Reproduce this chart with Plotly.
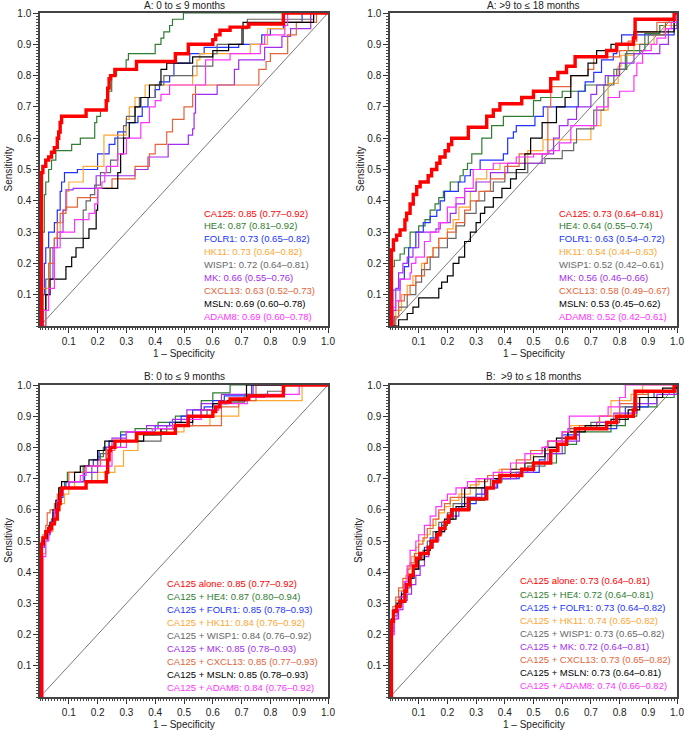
import plotly.graph_objects as go

# ---------------- data ----------------
MARKERS = ["CA125", "HE4", "FOLR1", "HK11", "WISP1", "MK", "CXCL13", "MSLN", "ADAM8"]

TICK_VALUES = [0.1, 0.2, 0.3, 0.4, 0.5, 0.6, 0.7, 0.8, 0.9, 1.0]
TICK_LABELS = ["0.1", "0.2", "0.3", "0.4", "0.5", "0.6", "0.7", "0.8", "0.9", "1.0"]

TITLES = ["A: 0 to \u2264 9 months", "A: >9 to \u2264 18 months",
          "B: 0 to \u2264 9 months", "B:  >9 to \u2264 18 months"]

LABELS_A_EARLY = ["CA125: 0.85 (0.77\u20130.92)", "HE4: 0.87 (0.81\u20130.92)", "FOLR1: 0.73 (0.65\u20130.82)",
                  "HK11: 0.73 (0.64\u20130.82)", "WISP1: 0.72 (0.64\u20130.81)", "MK: 0.66 (0.55\u20130.76)",
                  "CXCL13: 0.63 (0.52\u20130.73)", "MSLN: 0.69 (0.60\u20130.78)", "ADAM8: 0.69 (0.60\u20130.78)"]
LABELS_A_LATE = ["CA125: 0.73 (0.64\u20130.81)", "HE4: 0.64 (0.55\u20130.74)", "FOLR1: 0.63 (0.54\u20130.72)",
                 "HK11: 0.54 (0.44\u20130.63)", "WISP1: 0.52 (0.42\u20130.61)", "MK: 0.56 (0.46\u20130.66)",
                 "CXCL13: 0.58 (0.49\u20130.67)", "MSLN: 0.53 (0.45\u20130.62)", "ADAM8: 0.52 (0.42\u20130.61)"]
LABELS_B_EARLY = ["CA125 alone: 0.85 (0.77\u20130.92)", "CA125 + HE4: 0.87 (0.80\u20130.94)",
                  "CA125 + FOLR1: 0.85 (0.78\u20130.93)", "CA125 + HK11: 0.84 (0.76\u20130.92)",
                  "CA125 + WISP1: 0.84 (0.76\u20130.92)", "CA125 + MK: 0.85 (0.78\u20130.93)",
                  "CA125 + CXCL13: 0.85 (0.77\u20130.93)", "CA125 + MSLN: 0.85 (0.78\u20130.93)",
                  "CA125 + ADAM8: 0.84 (0.76\u20130.92)"]
LABELS_B_LATE = ["CA125 alone: 0.73 (0.64\u20130.81)", "CA125 + HE4: 0.72 (0.64\u20130.81)",
                 "CA125 + FOLR1: 0.73 (0.64\u20130.82)", "CA125 + HK11: 0.74 (0.65\u20130.82)",
                 "CA125 + WISP1: 0.73 (0.65\u20130.82)", "CA125 + MK: 0.72 (0.64\u20130.81)",
                 "CA125 + CXCL13: 0.73 (0.65\u20130.82)", "CA125 + MSLN: 0.73 (0.64\u20130.81)",
                 "CA125 + ADAM8: 0.74 (0.66\u20130.82)"]

# ROC curves: (1 - specificity, sensitivity) at each step
# ---- A: 0 to <= 9 months, single markers
A1_CA125_FPR = [0, 0.005, 0.01, 0.02, 0.03, 0.04, 0.05, 0.06, 0.065, 0.07, 0.075, 0.16, 0.23, 0.235, 0.24, 0.245, 0.26, 0.335, 0.47, 0.515, 0.6, 0.61, 0.625, 0.66, 0.725, 0.845, 1.0]
A1_CA125_TPR = [0, 0.49, 0.51, 0.53, 0.54, 0.555, 0.57, 0.6, 0.62, 0.65, 0.67, 0.69, 0.72, 0.76, 0.79, 0.8, 0.82, 0.845, 0.87, 0.9, 0.915, 0.93, 0.945, 0.955, 0.965, 1.0, 1.0]
A1_HE4_FPR = [0, 0.008, 0.015, 0.02, 0.03, 0.04, 0.055, 0.11, 0.14, 0.19, 0.197, 0.21, 0.229, 0.237, 0.249, 0.266, 0.299, 0.307, 0.4, 0.42, 0.43, 0.45, 0.46, 0.498, 1.0]
A1_HE4_TPR = [0, 0.3, 0.42, 0.46, 0.5, 0.53, 0.56, 0.58, 0.6, 0.65, 0.67, 0.69, 0.72, 0.75, 0.8, 0.82, 0.85, 0.87, 0.9, 0.92, 0.94, 0.96, 0.98, 1.0, 1.0]
A1_FOLR1_FPR = [0, 0.01, 0.015, 0.02, 0.03, 0.05, 0.06, 0.07, 0.075, 0.085, 0.13, 0.2, 0.24, 0.26, 0.27, 0.3, 0.34, 0.355, 0.375, 0.4, 0.415, 0.45, 0.465, 0.52, 0.57, 0.69, 0.77, 0.8, 0.845, 0.91, 1.0]
A1_FOLR1_TPR = [0, 0.1, 0.2, 0.25, 0.3, 0.33, 0.37, 0.43, 0.46, 0.49, 0.5, 0.55, 0.58, 0.6, 0.62, 0.65, 0.67, 0.7, 0.73, 0.755, 0.78, 0.8, 0.84, 0.87, 0.89, 0.9, 0.93, 0.95, 0.97, 1.0, 1.0]
A1_HK11_FPR = [0, 0.005, 0.01, 0.03, 0.035, 0.05, 0.07, 0.08, 0.093, 0.1, 0.15, 0.222, 0.3, 0.31, 0.33, 0.365, 0.53, 0.545, 0.555, 0.73, 0.79, 0.85, 0.94, 1.0]
A1_HK11_TPR = [0, 0.05, 0.12, 0.2, 0.25, 0.28, 0.33, 0.37, 0.43, 0.46, 0.51, 0.61, 0.66, 0.7, 0.73, 0.77, 0.8, 0.85, 0.87, 0.9, 0.95, 0.97, 1.0, 1.0]
A1_WISP1_FPR = [0, 0.01, 0.02, 0.035, 0.05, 0.15, 0.16, 0.175, 0.19, 0.21, 0.245, 0.27, 0.29, 0.3, 0.33, 0.345, 0.4, 0.43, 0.53, 0.6, 0.615, 0.7, 0.72, 0.95, 1.0]
A1_WISP1_TPR = [0, 0.1, 0.15, 0.25, 0.28, 0.37, 0.4, 0.42, 0.45, 0.49, 0.53, 0.6, 0.64, 0.67, 0.7, 0.73, 0.77, 0.8, 0.83, 0.87, 0.9, 0.95, 0.98, 1.0, 1.0]
A1_MK_FPR = [0, 0.02, 0.03, 0.045, 0.06, 0.08, 0.09, 0.115, 0.195, 0.33, 0.375, 0.445, 0.515, 0.53, 0.535, 0.54, 0.615, 0.675, 0.69, 0.78, 0.84, 0.87, 0.94, 1.0]
A1_MK_TPR = [0, 0.1, 0.15, 0.25, 0.3, 0.37, 0.435, 0.44, 0.48, 0.5, 0.54, 0.58, 0.61, 0.63, 0.68, 0.74, 0.77, 0.82, 0.85, 0.89, 0.925, 0.95, 1.0, 1.0]
A1_CXCL13_FPR = [0, 0.02, 0.03, 0.05, 0.06, 0.07, 0.09, 0.13, 0.2, 0.25, 0.33, 0.38, 0.4, 0.44, 0.46, 0.5, 0.53, 0.54, 0.76, 0.785, 0.8, 0.86, 0.89, 0.96, 1.0]
A1_CXCL13_TPR = [0, 0.1, 0.2, 0.28, 0.33, 0.36, 0.38, 0.41, 0.44, 0.47, 0.51, 0.55, 0.58, 0.62, 0.66, 0.7, 0.74, 0.77, 0.82, 0.845, 0.87, 0.93, 0.97, 1.0, 1.0]
A1_MSLN_FPR = [0, 0.01, 0.02, 0.035, 0.09, 0.11, 0.125, 0.15, 0.17, 0.195, 0.2, 0.27, 0.28, 0.29, 0.31, 0.33, 0.35, 0.38, 0.42, 0.44, 0.53, 0.6, 0.655, 0.705, 0.95, 1.0]
A1_MSLN_TPR = [0, 0.05, 0.1, 0.15, 0.19, 0.22, 0.25, 0.28, 0.31, 0.37, 0.44, 0.49, 0.55, 0.6, 0.65, 0.7, 0.73, 0.77, 0.82, 0.84, 0.86, 0.88, 0.9, 0.97, 1.0, 1.0]
A1_ADAM8_FPR = [0, 0.01, 0.03, 0.05, 0.07, 0.12, 0.17, 0.19, 0.2, 0.215, 0.225, 0.23, 0.27, 0.3, 0.35, 0.38, 0.4, 0.42, 0.45, 0.575, 0.66, 0.765, 0.78, 0.85, 0.86, 1.0]
A1_ADAM8_TPR = [0, 0.05, 0.12, 0.25, 0.3, 0.34, 0.36, 0.39, 0.44, 0.46, 0.49, 0.51, 0.55, 0.6, 0.65, 0.7, 0.72, 0.74, 0.77, 0.85, 0.87, 0.9, 0.93, 0.96, 1.0, 1.0]

# ---- A: >9 to <= 18 months, single markers
A2_CA125_FPR = [0, 0.005, 0.012, 0.023, 0.035, 0.052, 0.058, 0.07, 0.081, 0.093, 0.105, 0.133, 0.145, 0.163, 0.174, 0.192, 0.204, 0.215, 0.273, 0.337, 0.36, 0.383, 0.459, 0.5, 0.56, 0.585, 0.615, 0.645, 0.755, 0.79, 0.848, 0.854, 0.99, 1.0]
A2_CA125_TPR = [0, 0.243, 0.275, 0.29, 0.307, 0.339, 0.36, 0.39, 0.42, 0.445, 0.46, 0.48, 0.5, 0.52, 0.54, 0.56, 0.58, 0.6, 0.635, 0.67, 0.69, 0.71, 0.73, 0.75, 0.79, 0.81, 0.83, 0.86, 0.88, 0.9, 0.92, 0.98, 1.0, 1.0]
A2_HE4_FPR = [0, 0.007, 0.015, 0.035, 0.05, 0.07, 0.1, 0.122, 0.14, 0.157, 0.17, 0.186, 0.21, 0.244, 0.255, 0.27, 0.285, 0.32, 0.354, 0.395, 0.5, 0.525, 0.6, 0.68, 0.76, 0.79, 0.825, 0.888, 0.94, 1.0]
A2_HE4_TPR = [0, 0.19, 0.21, 0.23, 0.25, 0.3, 0.32, 0.34, 0.37, 0.39, 0.41, 0.43, 0.46, 0.48, 0.5, 0.52, 0.55, 0.6, 0.64, 0.67, 0.72, 0.73, 0.75, 0.77, 0.8, 0.82, 0.88, 0.935, 0.96, 1.0]
A2_FOLR1_FPR = [0, 0.01, 0.035, 0.05, 0.065, 0.09, 0.116, 0.14, 0.163, 0.175, 0.19, 0.238, 0.261, 0.28, 0.314, 0.395, 0.41, 0.43, 0.44, 0.505, 0.534, 0.656, 0.68, 0.71, 0.737, 0.778, 0.79, 0.807, 0.99, 1.0]
A2_FOLR1_TPR = [0, 0.115, 0.15, 0.19, 0.25, 0.3, 0.33, 0.35, 0.37, 0.4, 0.43, 0.46, 0.48, 0.5, 0.53, 0.55, 0.6, 0.62, 0.64, 0.67, 0.7, 0.75, 0.78, 0.81, 0.85, 0.87, 0.9, 0.93, 0.98, 1.0]
A2_HK11_FPR = [0, 0.01, 0.02, 0.04, 0.06, 0.08, 0.11, 0.13, 0.15, 0.17, 0.2, 0.22, 0.24, 0.28, 0.3, 0.337, 0.383, 0.48, 0.533, 0.7, 0.735, 0.76, 0.795, 0.805, 0.85, 0.92, 0.955, 0.99, 1.0]
A2_HK11_TPR = [0, 0.03, 0.05, 0.1, 0.13, 0.16, 0.2, 0.22, 0.25, 0.28, 0.31, 0.34, 0.38, 0.43, 0.47, 0.5, 0.52, 0.56, 0.595, 0.64, 0.69, 0.775, 0.83, 0.865, 0.9, 0.93, 0.96, 0.98, 1.0]
A2_WISP1_FPR = [0, 0.015, 0.03, 0.06, 0.09, 0.11, 0.14, 0.17, 0.2, 0.23, 0.26, 0.3, 0.33, 0.36, 0.4, 0.48, 0.54, 0.6, 0.64, 0.65, 0.71, 0.745, 0.78, 0.82, 0.87, 0.9, 0.96, 1.0]
A2_WISP1_TPR = [0, 0.03, 0.06, 0.1, 0.14, 0.18, 0.22, 0.25, 0.28, 0.32, 0.36, 0.4, 0.43, 0.46, 0.49, 0.52, 0.535, 0.56, 0.585, 0.63, 0.69, 0.77, 0.82, 0.87, 0.9, 0.93, 0.97, 1.0]
A2_MK_FPR = [0, 0.01, 0.02, 0.03, 0.045, 0.06, 0.08, 0.1, 0.16, 0.175, 0.21, 0.23, 0.26, 0.3, 0.35, 0.41, 0.53, 0.57, 0.59, 0.62, 0.65, 0.7, 0.72, 0.75, 0.8, 0.85, 0.94, 0.97, 1.0]
A2_MK_TPR = [0, 0.05, 0.12, 0.17, 0.2, 0.22, 0.25, 0.3, 0.31, 0.33, 0.36, 0.39, 0.43, 0.46, 0.49, 0.52, 0.55, 0.6, 0.64, 0.66, 0.7, 0.74, 0.77, 0.8, 0.84, 0.87, 0.9, 0.95, 1.0]
A2_CXCL13_FPR = [0, 0.02, 0.03, 0.05, 0.07, 0.09, 0.12, 0.13, 0.15, 0.17, 0.2, 0.23, 0.26, 0.28, 0.31, 0.35, 0.4, 0.45, 0.55, 0.56, 0.63, 0.69, 0.71, 0.8, 0.83, 0.86, 0.93, 1.0]
A2_CXCL13_TPR = [0, 0.03, 0.08, 0.1, 0.13, 0.16, 0.2, 0.22, 0.25, 0.28, 0.3, 0.33, 0.37, 0.4, 0.43, 0.47, 0.51, 0.55, 0.7, 0.765, 0.8, 0.82, 0.86, 0.88, 0.91, 0.94, 0.97, 1.0]
A2_MSLN_FPR = [0, 0.03, 0.06, 0.08, 0.1, 0.17, 0.18, 0.2, 0.22, 0.24, 0.26, 0.28, 0.3, 0.315, 0.33, 0.36, 0.39, 0.42, 0.44, 0.47, 0.49, 0.53, 0.58, 0.61, 0.63, 0.69, 0.72, 0.77, 0.85, 0.99, 1.0]
A2_MSLN_TPR = [0, 0.02, 0.04, 0.06, 0.09, 0.12, 0.14, 0.16, 0.2, 0.22, 0.27, 0.3, 0.33, 0.36, 0.38, 0.41, 0.44, 0.47, 0.5, 0.55, 0.6, 0.65, 0.7, 0.73, 0.8, 0.84, 0.88, 0.9, 0.94, 1.0, 1.0]
A2_ADAM8_FPR = [0, 0.005, 0.01, 0.02, 0.035, 0.07, 0.075, 0.09, 0.12, 0.14, 0.17, 0.2, 0.23, 0.26, 0.29, 0.36, 0.44, 0.5, 0.55, 0.59, 0.63, 0.72, 0.76, 0.8, 0.85, 0.86, 0.88, 0.91, 0.93, 0.96, 0.98, 1.0]
A2_ADAM8_TPR = [0, 0.03, 0.06, 0.08, 0.15, 0.17, 0.2, 0.22, 0.27, 0.3, 0.33, 0.38, 0.41, 0.44, 0.5, 0.52, 0.54, 0.55, 0.56, 0.585, 0.64, 0.7, 0.73, 0.75, 0.8, 0.84, 0.88, 0.9, 0.92, 0.95, 0.97, 1.0]

# ---- B: 0 to <= 9 months, CA125 combinations (CA125 alone is the A curve)
B1_HE4_FPR = [0, 0.005, 0.01, 0.02, 0.03, 0.04, 0.05, 0.06, 0.07, 0.085, 0.095, 0.15, 0.2, 0.22, 0.24, 0.28, 0.33, 0.41, 0.47, 0.56, 0.6, 0.66, 1.0]
B1_HE4_TPR = [0, 0.5, 0.51, 0.53, 0.55, 0.57, 0.6, 0.63, 0.67, 0.69, 0.72, 0.74, 0.77, 0.8, 0.82, 0.85, 0.86, 0.88, 0.9, 0.95, 0.975, 1.0, 1.0]
B1_FOLR1_FPR = [0, 0.005, 0.015, 0.025, 0.035, 0.045, 0.055, 0.065, 0.08, 0.09, 0.155, 0.185, 0.205, 0.225, 0.24, 0.28, 0.3, 0.4, 0.45, 0.49, 0.53, 0.57, 0.6, 0.64, 0.735, 1.0]
B1_FOLR1_TPR = [0, 0.48, 0.5, 0.52, 0.55, 0.57, 0.6, 0.64, 0.67, 0.69, 0.74, 0.76, 0.79, 0.8, 0.82, 0.84, 0.85, 0.87, 0.88, 0.9, 0.92, 0.93, 0.95, 0.965, 1.0, 1.0]
B1_HK11_FPR = [0, 0.01, 0.02, 0.03, 0.045, 0.055, 0.07, 0.085, 0.1, 0.12, 0.2, 0.26, 0.29, 0.34, 0.4, 0.5, 0.59, 0.69, 0.91, 1.0]
B1_HK11_TPR = [0, 0.46, 0.5, 0.53, 0.56, 0.6, 0.62, 0.65, 0.67, 0.69, 0.72, 0.74, 0.79, 0.84, 0.85, 0.87, 0.9, 0.95, 1.0, 1.0]
B1_WISP1_FPR = [0, 0.005, 0.015, 0.03, 0.04, 0.05, 0.06, 0.07, 0.1, 0.18, 0.21, 0.24, 0.28, 0.42, 0.44, 0.53, 0.58, 0.62, 0.71, 0.79, 0.85, 1.0]
B1_WISP1_TPR = [0, 0.49, 0.51, 0.54, 0.57, 0.6, 0.63, 0.67, 0.69, 0.74, 0.78, 0.8, 0.82, 0.85, 0.87, 0.9, 0.92, 0.945, 0.97, 0.98, 1.0, 1.0]
B1_MK_FPR = [0, 0.005, 0.015, 0.025, 0.035, 0.045, 0.055, 0.065, 0.075, 0.1, 0.15, 0.2, 0.23, 0.25, 0.3, 0.37, 0.46, 0.51, 0.56, 0.63, 0.74, 1.0]
B1_MK_TPR = [0, 0.49, 0.51, 0.53, 0.56, 0.59, 0.62, 0.65, 0.67, 0.69, 0.72, 0.76, 0.8, 0.83, 0.85, 0.87, 0.89, 0.92, 0.94, 0.97, 1.0, 1.0]
B1_CXCL13_FPR = [0, 0.005, 0.01, 0.02, 0.025, 0.035, 0.05, 0.06, 0.07, 0.1, 0.155, 0.21, 0.23, 0.26, 0.34, 0.42, 0.47, 0.53, 0.63, 0.69, 0.75, 1.0]
B1_CXCL13_TPR = [0, 0.5, 0.52, 0.55, 0.59, 0.6, 0.62, 0.65, 0.67, 0.72, 0.74, 0.76, 0.79, 0.82, 0.845, 0.86, 0.87, 0.87, 0.93, 0.95, 1.0, 1.0]
B1_MSLN_FPR = [0, 0.005, 0.015, 0.025, 0.035, 0.045, 0.055, 0.065, 0.075, 0.12, 0.14, 0.17, 0.2, 0.225, 0.36, 0.42, 0.47, 0.53, 0.56, 0.6, 0.65, 0.717, 1.0]
B1_MSLN_TPR = [0, 0.49, 0.51, 0.53, 0.56, 0.6, 0.63, 0.67, 0.69, 0.72, 0.74, 0.76, 0.79, 0.82, 0.84, 0.86, 0.88, 0.9, 0.92, 0.94, 0.95, 1.0, 1.0]
B1_ADAM8_FPR = [0, 0.01, 0.02, 0.03, 0.04, 0.05, 0.06, 0.07, 0.08, 0.1, 0.14, 0.16, 0.25, 0.3, 0.39, 0.46, 0.51, 0.56, 0.62, 0.72, 0.78, 0.9, 1.0]
B1_ADAM8_TPR = [0, 0.45, 0.5, 0.53, 0.56, 0.6, 0.63, 0.65, 0.67, 0.69, 0.71, 0.74, 0.8, 0.85, 0.86, 0.87, 0.89, 0.92, 0.94, 0.96, 0.97, 1.0, 1.0]

# ---- B: >9 to <= 18 months, CA125 combinations
B2_HE4_FPR = [0, 0.005, 0.012, 0.025, 0.035, 0.05, 0.06, 0.07, 0.085, 0.1, 0.11, 0.135, 0.15, 0.165, 0.18, 0.2, 0.22, 0.28, 0.33, 0.36, 0.39, 0.46, 0.5, 0.58, 0.61, 0.65, 0.77, 0.82, 0.86, 0.93, 0.99, 1.0]
B2_HE4_TPR = [0, 0.25, 0.28, 0.3, 0.32, 0.34, 0.36, 0.39, 0.41, 0.44, 0.46, 0.48, 0.5, 0.52, 0.55, 0.57, 0.6, 0.63, 0.67, 0.69, 0.71, 0.73, 0.75, 0.78, 0.81, 0.85, 0.87, 0.9, 0.93, 0.96, 0.99, 1.0]
B2_FOLR1_FPR = [0, 0.005, 0.01, 0.02, 0.03, 0.04, 0.055, 0.065, 0.08, 0.09, 0.1, 0.12, 0.14, 0.16, 0.18, 0.2, 0.22, 0.25, 0.3, 0.33, 0.375, 0.45, 0.52, 0.54, 0.58, 0.6, 0.66, 0.79, 0.82, 0.9, 0.92, 1.0]
B2_FOLR1_TPR = [0, 0.2, 0.27, 0.3, 0.32, 0.34, 0.37, 0.39, 0.42, 0.44, 0.46, 0.48, 0.51, 0.53, 0.56, 0.58, 0.6, 0.62, 0.65, 0.67, 0.7, 0.72, 0.76, 0.8, 0.82, 0.84, 0.86, 0.9, 0.93, 0.96, 0.98, 1.0]
B2_HK11_FPR = [0, 0.005, 0.012, 0.02, 0.03, 0.045, 0.055, 0.065, 0.075, 0.09, 0.1, 0.12, 0.14, 0.16, 0.17, 0.19, 0.21, 0.24, 0.28, 0.31, 0.34, 0.38, 0.44, 0.5, 0.53, 0.55, 0.6, 0.63, 0.73, 0.77, 0.84, 0.88, 1.0]
B2_HK11_TPR = [0, 0.23, 0.28, 0.31, 0.34, 0.37, 0.39, 0.42, 0.45, 0.48, 0.5, 0.52, 0.55, 0.57, 0.59, 0.61, 0.63, 0.65, 0.68, 0.7, 0.71, 0.73, 0.75, 0.78, 0.8, 0.82, 0.85, 0.87, 0.9, 0.95, 0.97, 1.0, 1.0]
B2_WISP1_FPR = [0, 0.005, 0.015, 0.025, 0.04, 0.055, 0.07, 0.085, 0.1, 0.115, 0.13, 0.15, 0.17, 0.2, 0.22, 0.25, 0.3, 0.35, 0.42, 0.48, 0.54, 0.58, 0.62, 0.7, 0.8, 0.85, 0.9, 1.0]
B2_WISP1_TPR = [0, 0.22, 0.26, 0.29, 0.32, 0.35, 0.38, 0.41, 0.44, 0.47, 0.5, 0.53, 0.56, 0.59, 0.62, 0.64, 0.67, 0.7, 0.72, 0.74, 0.78, 0.81, 0.86, 0.88, 0.93, 0.96, 0.98, 1.0]
B2_MK_FPR = [0, 0.005, 0.015, 0.03, 0.045, 0.06, 0.075, 0.09, 0.105, 0.12, 0.135, 0.15, 0.17, 0.19, 0.21, 0.24, 0.27, 0.32, 0.37, 0.44, 0.5, 0.55, 0.6, 0.66, 0.72, 0.78, 0.86, 0.93, 1.0]
B2_MK_TPR = [0, 0.21, 0.25, 0.28, 0.31, 0.33, 0.36, 0.39, 0.42, 0.45, 0.48, 0.5, 0.53, 0.56, 0.58, 0.61, 0.64, 0.67, 0.7, 0.72, 0.75, 0.78, 0.82, 0.86, 0.88, 0.91, 0.94, 0.97, 1.0]
B2_CXCL13_FPR = [0, 0.005, 0.01, 0.02, 0.03, 0.045, 0.06, 0.07, 0.085, 0.1, 0.115, 0.13, 0.15, 0.17, 0.19, 0.21, 0.25, 0.3, 0.34, 0.39, 0.44, 0.49, 0.55, 0.6, 0.66, 0.73, 0.8, 0.86, 0.9, 1.0]
B2_CXCL13_TPR = [0, 0.25, 0.29, 0.32, 0.35, 0.38, 0.41, 0.43, 0.46, 0.49, 0.51, 0.54, 0.57, 0.6, 0.62, 0.64, 0.67, 0.69, 0.71, 0.73, 0.76, 0.79, 0.82, 0.85, 0.87, 0.9, 0.94, 0.97, 0.98, 1.0]
B2_MSLN_FPR = [0, 0.005, 0.015, 0.025, 0.04, 0.05, 0.065, 0.08, 0.1, 0.12, 0.14, 0.16, 0.19, 0.23, 0.26, 0.33, 0.38, 0.42, 0.47, 0.5, 0.54, 0.58, 0.62, 0.68, 0.77, 0.83, 0.87, 0.95, 1.0]
B2_MSLN_TPR = [0, 0.25, 0.28, 0.3, 0.33, 0.36, 0.38, 0.41, 0.44, 0.47, 0.5, 0.53, 0.57, 0.61, 0.67, 0.7, 0.71, 0.73, 0.75, 0.77, 0.8, 0.83, 0.85, 0.87, 0.89, 0.92, 0.96, 0.99, 1.0]
B2_ADAM8_FPR = [0, 0.005, 0.015, 0.025, 0.035, 0.05, 0.06, 0.07, 0.09, 0.1, 0.12, 0.14, 0.16, 0.18, 0.2, 0.23, 0.27, 0.3, 0.36, 0.42, 0.47, 0.53, 0.55, 0.6, 0.625, 0.76, 0.8, 0.82, 1.0]
B2_ADAM8_TPR = [0, 0.2, 0.25, 0.28, 0.32, 0.37, 0.42, 0.47, 0.5, 0.52, 0.55, 0.58, 0.61, 0.63, 0.65, 0.67, 0.69, 0.7, 0.72, 0.75, 0.78, 0.8, 0.82, 0.85, 0.9, 0.93, 0.96, 1.0, 1.0]

PANEL_CURVES = [
    [(A1_CA125_FPR, A1_CA125_TPR), (A1_HE4_FPR, A1_HE4_TPR), (A1_FOLR1_FPR, A1_FOLR1_TPR),
     (A1_HK11_FPR, A1_HK11_TPR), (A1_WISP1_FPR, A1_WISP1_TPR), (A1_MK_FPR, A1_MK_TPR),
     (A1_CXCL13_FPR, A1_CXCL13_TPR), (A1_MSLN_FPR, A1_MSLN_TPR), (A1_ADAM8_FPR, A1_ADAM8_TPR)],
    [(A2_CA125_FPR, A2_CA125_TPR), (A2_HE4_FPR, A2_HE4_TPR), (A2_FOLR1_FPR, A2_FOLR1_TPR),
     (A2_HK11_FPR, A2_HK11_TPR), (A2_WISP1_FPR, A2_WISP1_TPR), (A2_MK_FPR, A2_MK_TPR),
     (A2_CXCL13_FPR, A2_CXCL13_TPR), (A2_MSLN_FPR, A2_MSLN_TPR), (A2_ADAM8_FPR, A2_ADAM8_TPR)],
    [(A1_CA125_FPR, A1_CA125_TPR), (B1_HE4_FPR, B1_HE4_TPR), (B1_FOLR1_FPR, B1_FOLR1_TPR),
     (B1_HK11_FPR, B1_HK11_TPR), (B1_WISP1_FPR, B1_WISP1_TPR), (B1_MK_FPR, B1_MK_TPR),
     (B1_CXCL13_FPR, B1_CXCL13_TPR), (B1_MSLN_FPR, B1_MSLN_TPR), (B1_ADAM8_FPR, B1_ADAM8_TPR)],
    [(A2_CA125_FPR, A2_CA125_TPR), (B2_HE4_FPR, B2_HE4_TPR), (B2_FOLR1_FPR, B2_FOLR1_TPR),
     (B2_HK11_FPR, B2_HK11_TPR), (B2_WISP1_FPR, B2_WISP1_TPR), (B2_MK_FPR, B2_MK_TPR),
     (B2_CXCL13_FPR, B2_CXCL13_TPR), (B2_MSLN_FPR, B2_MSLN_TPR), (B2_ADAM8_FPR, B2_ADAM8_TPR)],
]
PANEL_LABELS = [LABELS_A_EARLY, LABELS_A_LATE, LABELS_B_EARLY, LABELS_B_LATE]

# ---------------- style ----------------
W, H = 685, 730
FONT = "Liberation Sans, Arial, Helvetica, sans-serif"
COLORS = ["#ff0000", "#2f7d32", "#2233ff", "#ffa631", "#666666", "#a02ef0", "#e4643b", "#000000", "#ff33ff"]
WIDTHS = [3.4, 1.2, 1.2, 1.2, 1.2, 1.2, 1.2, 1.2, 1.2]

# pixel boxes: (left, right, top, bottom)
BOXES = [(40, 328, 13, 326), (390, 677, 13, 326), (40, 328, 385, 697), (390, 677, 385, 697)]
TITLE_Y = [5, 5, 376, 376]
XTITLE_Y = [353, 353, 724, 724]
YTITLE_X = [8, 360, 8, 358]
LEGEND_X = [0.5625, 0.582, 0.434, 0.446]
LEGEND_Y0 = [0.361, 0.361, 0.365, 0.372]
LEGEND_STEP = [0.0412, 0.0412, 0.0417, 0.0420]

fig = go.Figure()
layout = dict(width=W, height=H, margin=dict(l=0, r=0, t=0, b=0),
              paper_bgcolor="white", plot_bgcolor="white", showlegend=False,
              font=dict(family=FONT, size=10, color="#222"))
annotations = []

for p in range(4):
    l, r, t, b = BOXES[p]
    sfx = "" if p == 0 else str(p + 1)
    xa, ya = "x" + sfx, "y" + sfx
    common = dict(range=[0, 1], tickmode="array", tickvals=TICK_VALUES, ticktext=TICK_LABELS,
                  ticks="outside", ticklen=5, tickwidth=1, tickcolor="#333",
                  showline=True, linecolor="#444", linewidth=1.5, mirror=True,
                  showgrid=False, zeroline=False, fixedrange=True, automargin=False,
                  tickfont=dict(family=FONT, size=10, color="#222"),
                  minor=dict(ticks="outside", ticklen=2.5, tickmode="linear", tick0=0, dtick=0.01,
                             tickcolor="#444", tickwidth=0.8, showgrid=False))
    layout["xaxis" + sfx] = dict(common, domain=[l / W, r / W], anchor=ya)
    layout["yaxis" + sfx] = dict(common, domain=[1 - b / H, 1 - t / H], anchor=xa)

    # diagonal reference
    fig.add_trace(go.Scatter(x=[0, 1], y=[0, 1], mode="lines", xaxis=xa, yaxis=ya,
                             line=dict(color="#555", width=0.8), hoverinfo="skip"))
    curves = PANEL_CURVES[p]
    order = list(range(1, 9)) + [0]
    for i in order:
        fx, ty = curves[i]
        assert len(fx) == len(ty), (p, i)
        fig.add_trace(go.Scatter(x=fx, y=ty, mode="lines", xaxis=xa, yaxis=ya,
                                 line=dict(color=COLORS[i], width=WIDTHS[i], shape="hv"),
                                 name=MARKERS[i]))
    for i, txt in enumerate(PANEL_LABELS[p]):
        annotations.append(dict(x=LEGEND_X[p], y=LEGEND_Y0[p] - i * LEGEND_STEP[p], xref=xa, yref=ya,
                                text=txt, showarrow=False, xanchor="left", yanchor="middle",
                                font=dict(family=FONT, size=9.5, color=COLORS[i])))
    cx = (l + r) / 2 / W
    annotations.append(dict(x=cx, y=1 - TITLE_Y[p] / H, xref="paper", yref="paper", text=TITLES[p],
                            showarrow=False, xanchor="center", yanchor="middle",
                            font=dict(family=FONT, size=10, color="#222")))
    annotations.append(dict(x=cx, y=1 - XTITLE_Y[p] / H, xref="paper", yref="paper",
                            text="1 \u2013 Specificity", showarrow=False, xanchor="center",
                            yanchor="middle", font=dict(family=FONT, size=10, color="#222")))
    annotations.append(dict(x=YTITLE_X[p] / W, y=1 - (t + b) / 2 / H, xref="paper", yref="paper",
                            text="Sensitivity", textangle=-90, showarrow=False, xanchor="center",
                            yanchor="middle", font=dict(family=FONT, size=10, color="#222")))

layout["annotations"] = annotations
fig.update_layout(**layout)
fig.write_html("out.html", config={"displayModeBar": False},
               post_script="document.body.style.margin='0';document.body.style.overflow='hidden';")
